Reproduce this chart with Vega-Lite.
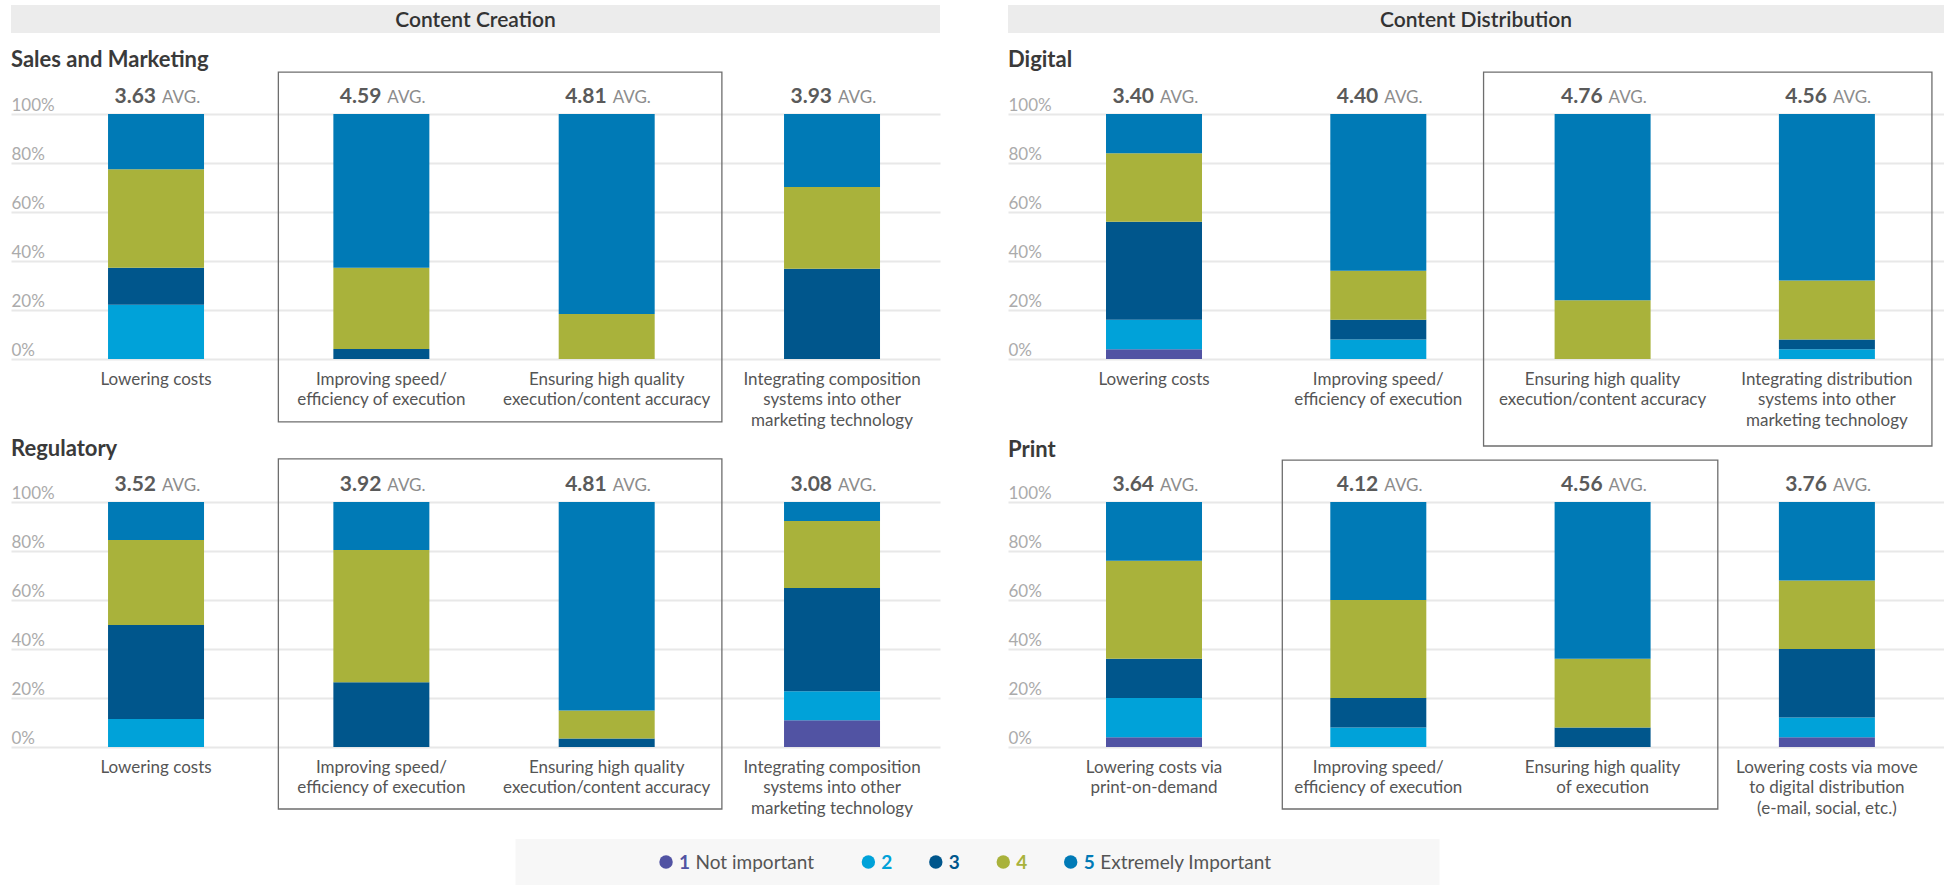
{
"$schema": "https://vega.github.io/schema/vega-lite/v6.json",
"padding": {"left": 11, "top": 5, "right": 0, "bottom": 0},
"autosize": {"type": "pad"},
"background": "white",
"config": {"font": "Lato", "view": {"stroke": null}},
"datasets": {
"headers": [{"section": "Content Creation"}, {"section": "Content Distribution"}],
"legend": [
{"level": "1", "desc": "Not important"},
{"level": "2", "desc": ""},
{"level": "3", "desc": ""},
{"level": "4", "desc": ""},
{"level": "5", "desc": "Extremely Important"}
],
"boxes": [
{"panel": "Sales and Marketing", "first": "Improving speed/\nefficiency of execution", "last": "Ensuring high quality\nexecution/content accuracy"},
{"panel": "Regulatory", "first": "Improving speed/\nefficiency of execution", "last": "Ensuring high quality\nexecution/content accuracy"},
{"panel": "Digital", "first": "Ensuring high quality\nexecution/content accuracy", "last": "Integrating distribution\nsystems into other\nmarketing technology"},
{"panel": "Print", "first": "Improving speed/\nefficiency of execution", "last": "Ensuring high quality\nof execution"}
],
"avgs": [
{"panel": "Sales and Marketing", "item": "Lowering costs", "avg": 3.63},
{"panel": "Sales and Marketing", "item": "Improving speed/\nefficiency of execution", "avg": 4.59},
{"panel": "Sales and Marketing", "item": "Ensuring high quality\nexecution/content accuracy", "avg": 4.81},
{"panel": "Sales and Marketing", "item": "Integrating composition\nsystems into other\nmarketing technology", "avg": 3.93},
{"panel": "Regulatory", "item": "Lowering costs", "avg": 3.52},
{"panel": "Regulatory", "item": "Improving speed/\nefficiency of execution", "avg": 3.92},
{"panel": "Regulatory", "item": "Ensuring high quality\nexecution/content accuracy", "avg": 4.81},
{"panel": "Regulatory", "item": "Integrating composition\nsystems into other\nmarketing technology", "avg": 3.08},
{"panel": "Digital", "item": "Lowering costs", "avg": 3.40},
{"panel": "Digital", "item": "Improving speed/\nefficiency of execution", "avg": 4.40},
{"panel": "Digital", "item": "Ensuring high quality\nexecution/content accuracy", "avg": 4.76},
{"panel": "Digital", "item": "Integrating distribution\nsystems into other\nmarketing technology", "avg": 4.56},
{"panel": "Print", "item": "Lowering costs via\nprint-on-demand", "avg": 3.64},
{"panel": "Print", "item": "Improving speed/\nefficiency of execution", "avg": 4.12},
{"panel": "Print", "item": "Ensuring high quality\nof execution", "avg": 4.56},
{"panel": "Print", "item": "Lowering costs via move\nto digital distribution\n(e-mail, social, etc.)", "avg": 3.76}
],
"bars": [
{"panel": "Sales and Marketing", "item": "Lowering costs", "level": "2", "pct": 22.1},
{"panel": "Sales and Marketing", "item": "Lowering costs", "level": "3", "pct": 15.1},
{"panel": "Sales and Marketing", "item": "Lowering costs", "level": "4", "pct": 40.3},
{"panel": "Sales and Marketing", "item": "Lowering costs", "level": "5", "pct": 22.5},
{"panel": "Sales and Marketing", "item": "Improving speed/\nefficiency of execution", "level": "3", "pct": 4.1},
{"panel": "Sales and Marketing", "item": "Improving speed/\nefficiency of execution", "level": "4", "pct": 33.1},
{"panel": "Sales and Marketing", "item": "Improving speed/\nefficiency of execution", "level": "5", "pct": 62.8},
{"panel": "Sales and Marketing", "item": "Ensuring high quality\nexecution/content accuracy", "level": "4", "pct": 18.4},
{"panel": "Sales and Marketing", "item": "Ensuring high quality\nexecution/content accuracy", "level": "5", "pct": 81.6},
{"panel": "Sales and Marketing", "item": "Integrating composition\nsystems into other\nmarketing technology", "level": "3", "pct": 36.8},
{"panel": "Sales and Marketing", "item": "Integrating composition\nsystems into other\nmarketing technology", "level": "4", "pct": 33.4},
{"panel": "Sales and Marketing", "item": "Integrating composition\nsystems into other\nmarketing technology", "level": "5", "pct": 29.8},
{"panel": "Regulatory", "item": "Lowering costs", "level": "2", "pct": 11.4},
{"panel": "Regulatory", "item": "Lowering costs", "level": "3", "pct": 38.4},
{"panel": "Regulatory", "item": "Lowering costs", "level": "4", "pct": 34.7},
{"panel": "Regulatory", "item": "Lowering costs", "level": "5", "pct": 15.5},
{"panel": "Regulatory", "item": "Improving speed/\nefficiency of execution", "level": "3", "pct": 26.4},
{"panel": "Regulatory", "item": "Improving speed/\nefficiency of execution", "level": "4", "pct": 54.0},
{"panel": "Regulatory", "item": "Improving speed/\nefficiency of execution", "level": "5", "pct": 19.6},
{"panel": "Regulatory", "item": "Ensuring high quality\nexecution/content accuracy", "level": "3", "pct": 3.5},
{"panel": "Regulatory", "item": "Ensuring high quality\nexecution/content accuracy", "level": "4", "pct": 11.4},
{"panel": "Regulatory", "item": "Ensuring high quality\nexecution/content accuracy", "level": "5", "pct": 85.1},
{"panel": "Regulatory", "item": "Integrating composition\nsystems into other\nmarketing technology", "level": "1", "pct": 10.9},
{"panel": "Regulatory", "item": "Integrating composition\nsystems into other\nmarketing technology", "level": "2", "pct": 11.9},
{"panel": "Regulatory", "item": "Integrating composition\nsystems into other\nmarketing technology", "level": "3", "pct": 42.1},
{"panel": "Regulatory", "item": "Integrating composition\nsystems into other\nmarketing technology", "level": "4", "pct": 27.3},
{"panel": "Regulatory", "item": "Integrating composition\nsystems into other\nmarketing technology", "level": "5", "pct": 7.8},
{"panel": "Digital", "item": "Lowering costs", "level": "1", "pct": 4},
{"panel": "Digital", "item": "Lowering costs", "level": "2", "pct": 12},
{"panel": "Digital", "item": "Lowering costs", "level": "3", "pct": 40},
{"panel": "Digital", "item": "Lowering costs", "level": "4", "pct": 28},
{"panel": "Digital", "item": "Lowering costs", "level": "5", "pct": 16},
{"panel": "Digital", "item": "Improving speed/\nefficiency of execution", "level": "2", "pct": 8},
{"panel": "Digital", "item": "Improving speed/\nefficiency of execution", "level": "3", "pct": 8},
{"panel": "Digital", "item": "Improving speed/\nefficiency of execution", "level": "4", "pct": 20},
{"panel": "Digital", "item": "Improving speed/\nefficiency of execution", "level": "5", "pct": 64},
{"panel": "Digital", "item": "Ensuring high quality\nexecution/content accuracy", "level": "4", "pct": 24},
{"panel": "Digital", "item": "Ensuring high quality\nexecution/content accuracy", "level": "5", "pct": 76},
{"panel": "Digital", "item": "Integrating distribution\nsystems into other\nmarketing technology", "level": "2", "pct": 4},
{"panel": "Digital", "item": "Integrating distribution\nsystems into other\nmarketing technology", "level": "3", "pct": 4},
{"panel": "Digital", "item": "Integrating distribution\nsystems into other\nmarketing technology", "level": "4", "pct": 24},
{"panel": "Digital", "item": "Integrating distribution\nsystems into other\nmarketing technology", "level": "5", "pct": 68},
{"panel": "Print", "item": "Lowering costs via\nprint-on-demand", "level": "1", "pct": 4},
{"panel": "Print", "item": "Lowering costs via\nprint-on-demand", "level": "2", "pct": 16},
{"panel": "Print", "item": "Lowering costs via\nprint-on-demand", "level": "3", "pct": 16},
{"panel": "Print", "item": "Lowering costs via\nprint-on-demand", "level": "4", "pct": 40},
{"panel": "Print", "item": "Lowering costs via\nprint-on-demand", "level": "5", "pct": 24},
{"panel": "Print", "item": "Improving speed/\nefficiency of execution", "level": "2", "pct": 8},
{"panel": "Print", "item": "Improving speed/\nefficiency of execution", "level": "3", "pct": 12},
{"panel": "Print", "item": "Improving speed/\nefficiency of execution", "level": "4", "pct": 40},
{"panel": "Print", "item": "Improving speed/\nefficiency of execution", "level": "5", "pct": 40},
{"panel": "Print", "item": "Ensuring high quality\nof execution", "level": "3", "pct": 8},
{"panel": "Print", "item": "Ensuring high quality\nof execution", "level": "4", "pct": 28},
{"panel": "Print", "item": "Ensuring high quality\nof execution", "level": "5", "pct": 64},
{"panel": "Print", "item": "Lowering costs via move\nto digital distribution\n(e-mail, social, etc.)", "level": "1", "pct": 4},
{"panel": "Print", "item": "Lowering costs via move\nto digital distribution\n(e-mail, social, etc.)", "level": "2", "pct": 8},
{"panel": "Print", "item": "Lowering costs via move\nto digital distribution\n(e-mail, social, etc.)", "level": "3", "pct": 28},
{"panel": "Print", "item": "Lowering costs via move\nto digital distribution\n(e-mail, social, etc.)", "level": "4", "pct": 28},
{"panel": "Print", "item": "Lowering costs via move\nto digital distribution\n(e-mail, social, etc.)", "level": "5", "pct": 32}
]
},
"spacing": 23,
"center": true,
"vconcat": [
{
"columns": 2,
"spacing": {"row": 0, "column": 68},
"bounds": "flush",
"align": "each",
"concat": [
{
"width": 929, "height": 28,
"view": {"fill": "#ececec"},
"data": {"name": "headers"},
"transform": [{"filter": "datum.section === 'Content Creation'"}],
"mark": {"type": "text", "fontSize": 21, "fontWeight": 600, "color": "#333333", "baseline": "middle", "dy": 1.5},
"encoding": {"text": {"field": "section", "type": "nominal"}}
},
{
"width": 936, "height": 28,
"view": {"fill": "#ececec"},
"data": {"name": "headers"},
"transform": [{"filter": "datum.section === 'Content Distribution'"}],
"mark": {"type": "text", "fontSize": 21, "fontWeight": 600, "color": "#333333", "baseline": "middle", "dy": 1.5},
"encoding": {"text": {"field": "section", "type": "nominal"}}
},
{"width": 929, "height": 81, "data": {"values": []}, "mark": "point"},
{"width": 936, "height": 81, "data": {"values": []}, "mark": "point"},
{
"width": 929, "height": 245,
"title": {"text": "Sales and Marketing", "anchor": "start", "frame": "group", "baseline": "alphabetic", "offset": -18, "fontSize": 22, "fontWeight": "bold", "color": "#3a3a3a"},
"layer": [
{"data": {"name": "bars"}, "transform": [{"filter": "datum.panel === 'Sales and Marketing'"}],
"mark": {"type": "bar"},
"encoding": {
"x": {"field": "item", "type": "nominal", "scale": {"domain": ["Lowering costs", "Improving speed/\nefficiency of execution", "Ensuring high quality\nexecution/content accuracy", "Integrating composition\nsystems into other\nmarketing technology"], "paddingInner": 0.574, "paddingOuter": 0.3484, "align": 0.618},
"axis": {"title": null, "domain": false, "ticks": false, "labelAngle": 0, "labelExpr": "split(datum.label, '\\n')", "labelPadding": 12, "labelBaseline": "top", "labelLineHeight": 20.5, "labelFontSize": 17, "labelColor": "#555555", "labelLimit": 400, "labelOverlap": false, "labelFlush": false, "grid": false}},
"y": {"field": "pct", "type": "quantitative", "stack": "zero", "scale": {"domain": [0, 100], "nice": false},
"axis": {"title": null, "values": [0, 20, 40, 60, 80, 100], "labelExpr": "datum.value + '%'", "domain": false, "ticks": false, "tickSize": 0, "labelPadding": 0, "labelAlign": "left", "labelBaseline": "alphabetic", "labelOffset": -4, "labelFlush": false, "labelOverlap": false, "labelFontSize": 17, "labelColor": "#ababab", "grid": true, "gridColor": "#e8e8e8", "gridWidth": 2}},
"color": {"field": "level", "type": "nominal", "scale": {"domain": ["1", "2", "3", "4", "5"], "range": ["#5153a3", "#00a2d9", "#00568c", "#a9b23b", "#007ab6"]}, "legend": null},
"order": {"field": "level", "type": "ordinal", "sort": "ascending"}}},
{"data": {"name": "boxes"}, "transform": [{"filter": "datum.panel === 'Sales and Marketing'"}],
"mark": {"type": "rect", "fill": "white", "fillOpacity": 0, "stroke": "#6e6e6e", "strokeWidth": 1.3},
"encoding": {
"x": {"field": "first", "type": "nominal", "bandPosition": -0.573, "scale": {"domain": ["Lowering costs", "Improving speed/\nefficiency of execution", "Ensuring high quality\nexecution/content accuracy", "Integrating composition\nsystems into other\nmarketing technology"], "paddingInner": 0.574, "paddingOuter": 0.3484, "align": 0.618},
"axis": {"title": null, "domain": false, "ticks": false, "labelAngle": 0, "labelExpr": "split(datum.label, '\\n')", "labelPadding": 12, "labelBaseline": "top", "labelLineHeight": 20.5, "labelFontSize": 17, "labelColor": "#555555", "labelLimit": 400, "labelOverlap": false, "labelFlush": false, "grid": false}},
"x2": {"field": "last", "bandPosition": 1.7},
"y": {"datum": 117.1, "type": "quantitative", "scale": {"domain": [0, 100], "nice": false},
"axis": {"title": null, "values": [0, 20, 40, 60, 80, 100], "labelExpr": "datum.value + '%'", "domain": false, "ticks": false, "tickSize": 0, "labelPadding": 0, "labelAlign": "left", "labelBaseline": "alphabetic", "labelOffset": -4, "labelFlush": false, "labelOverlap": false, "labelFontSize": 17, "labelColor": "#ababab", "grid": true, "gridColor": "#e8e8e8", "gridWidth": 2}},
"y2": {"datum": -25.7}}},
{"data": {"name": "avgs"}, "transform": [{"filter": "datum.panel === 'Sales and Marketing'"}],
"mark": {"type": "text", "align": "right", "baseline": "alphabetic", "dy": -11, "fontSize": 21, "fontWeight": "bold", "color": "#5a5a5a"},
"encoding": {
"x": {"field": "item", "type": "nominal", "scale": {"domain": ["Lowering costs", "Improving speed/\nefficiency of execution", "Ensuring high quality\nexecution/content accuracy", "Integrating composition\nsystems into other\nmarketing technology"], "paddingInner": 0.574, "paddingOuter": 0.3484, "align": 0.618},
"axis": {"title": null, "domain": false, "ticks": false, "labelAngle": 0, "labelExpr": "split(datum.label, '\\n')", "labelPadding": 12, "labelBaseline": "top", "labelLineHeight": 20.5, "labelFontSize": 17, "labelColor": "#555555", "labelLimit": 400, "labelOverlap": false, "labelFlush": false, "grid": false}},
"y": {"datum": 100, "type": "quantitative", "scale": {"domain": [0, 100], "nice": false},
"axis": {"title": null, "values": [0, 20, 40, 60, 80, 100], "labelExpr": "datum.value + '%'", "domain": false, "ticks": false, "tickSize": 0, "labelPadding": 0, "labelAlign": "left", "labelBaseline": "alphabetic", "labelOffset": -4, "labelFlush": false, "labelOverlap": false, "labelFontSize": 17, "labelColor": "#ababab", "grid": true, "gridColor": "#e8e8e8", "gridWidth": 2}},
"text": {"field": "avg", "type": "quantitative", "format": ".2f"}}},
{"data": {"name": "avgs"}, "transform": [{"filter": "datum.panel === 'Sales and Marketing'"}],
"mark": {"type": "text", "text": "AVG.", "align": "left", "baseline": "alphabetic", "dx": 6, "dy": -11, "fontSize": 17, "color": "#8c8c8c"},
"encoding": {
"x": {"field": "item", "type": "nominal", "scale": {"domain": ["Lowering costs", "Improving speed/\nefficiency of execution", "Ensuring high quality\nexecution/content accuracy", "Integrating composition\nsystems into other\nmarketing technology"], "paddingInner": 0.574, "paddingOuter": 0.3484, "align": 0.618},
"axis": {"title": null, "domain": false, "ticks": false, "labelAngle": 0, "labelExpr": "split(datum.label, '\\n')", "labelPadding": 12, "labelBaseline": "top", "labelLineHeight": 20.5, "labelFontSize": 17, "labelColor": "#555555", "labelLimit": 400, "labelOverlap": false, "labelFlush": false, "grid": false}},
"y": {"datum": 100, "type": "quantitative", "scale": {"domain": [0, 100], "nice": false},
"axis": {"title": null, "values": [0, 20, 40, 60, 80, 100], "labelExpr": "datum.value + '%'", "domain": false, "ticks": false, "tickSize": 0, "labelPadding": 0, "labelAlign": "left", "labelBaseline": "alphabetic", "labelOffset": -4, "labelFlush": false, "labelOverlap": false, "labelFontSize": 17, "labelColor": "#ababab", "grid": true, "gridColor": "#e8e8e8", "gridWidth": 2}}}}
]
},
{
"width": 936, "height": 245,
"title": {"text": "Digital", "anchor": "start", "frame": "group", "baseline": "alphabetic", "offset": -18, "fontSize": 22, "fontWeight": "bold", "color": "#3a3a3a"},
"layer": [
{"data": {"name": "bars"}, "transform": [{"filter": "datum.panel === 'Digital'"}],
"mark": {"type": "bar"},
"encoding": {
"x": {"field": "item", "type": "nominal", "scale": {"domain": ["Lowering costs", "Improving speed/\nefficiency of execution", "Ensuring high quality\nexecution/content accuracy", "Integrating distribution\nsystems into other\nmarketing technology"], "paddingInner": 0.572, "paddingOuter": 0.3725, "align": 0.5865},
"axis": {"title": null, "domain": false, "ticks": false, "labelAngle": 0, "labelExpr": "split(datum.label, '\\n')", "labelPadding": 12, "labelBaseline": "top", "labelLineHeight": 20.5, "labelFontSize": 17, "labelColor": "#555555", "labelLimit": 400, "labelOverlap": false, "labelFlush": false, "grid": false}},
"y": {"field": "pct", "type": "quantitative", "stack": "zero", "scale": {"domain": [0, 100], "nice": false},
"axis": {"title": null, "values": [0, 20, 40, 60, 80, 100], "labelExpr": "datum.value + '%'", "domain": false, "ticks": false, "tickSize": 0, "labelPadding": 0, "labelAlign": "left", "labelBaseline": "alphabetic", "labelOffset": -4, "labelFlush": false, "labelOverlap": false, "labelFontSize": 17, "labelColor": "#ababab", "grid": true, "gridColor": "#e8e8e8", "gridWidth": 2}},
"color": {"field": "level", "type": "nominal", "scale": {"domain": ["1", "2", "3", "4", "5"], "range": ["#5153a3", "#00a2d9", "#00568c", "#a9b23b", "#007ab6"]}, "legend": null},
"order": {"field": "level", "type": "ordinal", "sort": "ascending"}}},
{"data": {"name": "boxes"}, "transform": [{"filter": "datum.panel === 'Digital'"}],
"mark": {"type": "rect", "fill": "white", "fillOpacity": 0, "stroke": "#6e6e6e", "strokeWidth": 1.3},
"encoding": {
"x": {"field": "first", "type": "nominal", "bandPosition": -0.74, "scale": {"domain": ["Lowering costs", "Improving speed/\nefficiency of execution", "Ensuring high quality\nexecution/content accuracy", "Integrating distribution\nsystems into other\nmarketing technology"], "paddingInner": 0.572, "paddingOuter": 0.3725, "align": 0.5865},
"axis": {"title": null, "domain": false, "ticks": false, "labelAngle": 0, "labelExpr": "split(datum.label, '\\n')", "labelPadding": 12, "labelBaseline": "top", "labelLineHeight": 20.5, "labelFontSize": 17, "labelColor": "#555555", "labelLimit": 400, "labelOverlap": false, "labelFlush": false, "grid": false}},
"x2": {"field": "last", "bandPosition": 1.594},
"y": {"datum": 117.1, "type": "quantitative", "scale": {"domain": [0, 100], "nice": false},
"axis": {"title": null, "values": [0, 20, 40, 60, 80, 100], "labelExpr": "datum.value + '%'", "domain": false, "ticks": false, "tickSize": 0, "labelPadding": 0, "labelAlign": "left", "labelBaseline": "alphabetic", "labelOffset": -4, "labelFlush": false, "labelOverlap": false, "labelFontSize": 17, "labelColor": "#ababab", "grid": true, "gridColor": "#e8e8e8", "gridWidth": 2}},
"y2": {"datum": -35.5}}},
{"data": {"name": "avgs"}, "transform": [{"filter": "datum.panel === 'Digital'"}],
"mark": {"type": "text", "align": "right", "baseline": "alphabetic", "dy": -11, "fontSize": 21, "fontWeight": "bold", "color": "#5a5a5a"},
"encoding": {
"x": {"field": "item", "type": "nominal", "scale": {"domain": ["Lowering costs", "Improving speed/\nefficiency of execution", "Ensuring high quality\nexecution/content accuracy", "Integrating distribution\nsystems into other\nmarketing technology"], "paddingInner": 0.572, "paddingOuter": 0.3725, "align": 0.5865},
"axis": {"title": null, "domain": false, "ticks": false, "labelAngle": 0, "labelExpr": "split(datum.label, '\\n')", "labelPadding": 12, "labelBaseline": "top", "labelLineHeight": 20.5, "labelFontSize": 17, "labelColor": "#555555", "labelLimit": 400, "labelOverlap": false, "labelFlush": false, "grid": false}},
"y": {"datum": 100, "type": "quantitative", "scale": {"domain": [0, 100], "nice": false},
"axis": {"title": null, "values": [0, 20, 40, 60, 80, 100], "labelExpr": "datum.value + '%'", "domain": false, "ticks": false, "tickSize": 0, "labelPadding": 0, "labelAlign": "left", "labelBaseline": "alphabetic", "labelOffset": -4, "labelFlush": false, "labelOverlap": false, "labelFontSize": 17, "labelColor": "#ababab", "grid": true, "gridColor": "#e8e8e8", "gridWidth": 2}},
"text": {"field": "avg", "type": "quantitative", "format": ".2f"}}},
{"data": {"name": "avgs"}, "transform": [{"filter": "datum.panel === 'Digital'"}],
"mark": {"type": "text", "text": "AVG.", "align": "left", "baseline": "alphabetic", "dx": 6, "dy": -11, "fontSize": 17, "color": "#8c8c8c"},
"encoding": {
"x": {"field": "item", "type": "nominal", "scale": {"domain": ["Lowering costs", "Improving speed/\nefficiency of execution", "Ensuring high quality\nexecution/content accuracy", "Integrating distribution\nsystems into other\nmarketing technology"], "paddingInner": 0.572, "paddingOuter": 0.3725, "align": 0.5865},
"axis": {"title": null, "domain": false, "ticks": false, "labelAngle": 0, "labelExpr": "split(datum.label, '\\n')", "labelPadding": 12, "labelBaseline": "top", "labelLineHeight": 20.5, "labelFontSize": 17, "labelColor": "#555555", "labelLimit": 400, "labelOverlap": false, "labelFlush": false, "grid": false}},
"y": {"datum": 100, "type": "quantitative", "scale": {"domain": [0, 100], "nice": false},
"axis": {"title": null, "values": [0, 20, 40, 60, 80, 100], "labelExpr": "datum.value + '%'", "domain": false, "ticks": false, "tickSize": 0, "labelPadding": 0, "labelAlign": "left", "labelBaseline": "alphabetic", "labelOffset": -4, "labelFlush": false, "labelOverlap": false, "labelFontSize": 17, "labelColor": "#ababab", "grid": true, "gridColor": "#e8e8e8", "gridWidth": 2}}}}
]
},
{"width": 929, "height": 143, "data": {"values": []}, "mark": "point"},
{"width": 936, "height": 143, "data": {"values": []}, "mark": "point"},
{
"width": 929, "height": 245,
"title": {"text": "Regulatory", "anchor": "start", "frame": "group", "baseline": "alphabetic", "offset": -20, "fontSize": 22, "fontWeight": "bold", "color": "#3a3a3a"},
"layer": [
{"data": {"name": "bars"}, "transform": [{"filter": "datum.panel === 'Regulatory'"}],
"mark": {"type": "bar"},
"encoding": {
"x": {"field": "item", "type": "nominal", "scale": {"domain": ["Lowering costs", "Improving speed/\nefficiency of execution", "Ensuring high quality\nexecution/content accuracy", "Integrating composition\nsystems into other\nmarketing technology"], "paddingInner": 0.574, "paddingOuter": 0.3484, "align": 0.618},
"axis": {"title": null, "domain": false, "ticks": false, "labelAngle": 0, "labelExpr": "split(datum.label, '\\n')", "labelPadding": 12, "labelBaseline": "top", "labelLineHeight": 20.5, "labelFontSize": 17, "labelColor": "#555555", "labelLimit": 400, "labelOverlap": false, "labelFlush": false, "grid": false}},
"y": {"field": "pct", "type": "quantitative", "stack": "zero", "scale": {"domain": [0, 100], "nice": false},
"axis": {"title": null, "values": [0, 20, 40, 60, 80, 100], "labelExpr": "datum.value + '%'", "domain": false, "ticks": false, "tickSize": 0, "labelPadding": 0, "labelAlign": "left", "labelBaseline": "alphabetic", "labelOffset": -4, "labelFlush": false, "labelOverlap": false, "labelFontSize": 17, "labelColor": "#ababab", "grid": true, "gridColor": "#e8e8e8", "gridWidth": 2}},
"color": {"field": "level", "type": "nominal", "scale": {"domain": ["1", "2", "3", "4", "5"], "range": ["#5153a3", "#00a2d9", "#00568c", "#a9b23b", "#007ab6"]}, "legend": null},
"order": {"field": "level", "type": "ordinal", "sort": "ascending"}}},
{"data": {"name": "boxes"}, "transform": [{"filter": "datum.panel === 'Regulatory'"}],
"mark": {"type": "rect", "fill": "white", "fillOpacity": 0, "stroke": "#6e6e6e", "strokeWidth": 1.3},
"encoding": {
"x": {"field": "first", "type": "nominal", "bandPosition": -0.573, "scale": {"domain": ["Lowering costs", "Improving speed/\nefficiency of execution", "Ensuring high quality\nexecution/content accuracy", "Integrating composition\nsystems into other\nmarketing technology"], "paddingInner": 0.574, "paddingOuter": 0.3484, "align": 0.618},
"axis": {"title": null, "domain": false, "ticks": false, "labelAngle": 0, "labelExpr": "split(datum.label, '\\n')", "labelPadding": 12, "labelBaseline": "top", "labelLineHeight": 20.5, "labelFontSize": 17, "labelColor": "#555555", "labelLimit": 400, "labelOverlap": false, "labelFlush": false, "grid": false}},
"x2": {"field": "last", "bandPosition": 1.7},
"y": {"datum": 117.6, "type": "quantitative", "scale": {"domain": [0, 100], "nice": false},
"axis": {"title": null, "values": [0, 20, 40, 60, 80, 100], "labelExpr": "datum.value + '%'", "domain": false, "ticks": false, "tickSize": 0, "labelPadding": 0, "labelAlign": "left", "labelBaseline": "alphabetic", "labelOffset": -4, "labelFlush": false, "labelOverlap": false, "labelFontSize": 17, "labelColor": "#ababab", "grid": true, "gridColor": "#e8e8e8", "gridWidth": 2}},
"y2": {"datum": -25.3}}},
{"data": {"name": "avgs"}, "transform": [{"filter": "datum.panel === 'Regulatory'"}],
"mark": {"type": "text", "align": "right", "baseline": "alphabetic", "dy": -11, "fontSize": 21, "fontWeight": "bold", "color": "#5a5a5a"},
"encoding": {
"x": {"field": "item", "type": "nominal", "scale": {"domain": ["Lowering costs", "Improving speed/\nefficiency of execution", "Ensuring high quality\nexecution/content accuracy", "Integrating composition\nsystems into other\nmarketing technology"], "paddingInner": 0.574, "paddingOuter": 0.3484, "align": 0.618},
"axis": {"title": null, "domain": false, "ticks": false, "labelAngle": 0, "labelExpr": "split(datum.label, '\\n')", "labelPadding": 12, "labelBaseline": "top", "labelLineHeight": 20.5, "labelFontSize": 17, "labelColor": "#555555", "labelLimit": 400, "labelOverlap": false, "labelFlush": false, "grid": false}},
"y": {"datum": 100, "type": "quantitative", "scale": {"domain": [0, 100], "nice": false},
"axis": {"title": null, "values": [0, 20, 40, 60, 80, 100], "labelExpr": "datum.value + '%'", "domain": false, "ticks": false, "tickSize": 0, "labelPadding": 0, "labelAlign": "left", "labelBaseline": "alphabetic", "labelOffset": -4, "labelFlush": false, "labelOverlap": false, "labelFontSize": 17, "labelColor": "#ababab", "grid": true, "gridColor": "#e8e8e8", "gridWidth": 2}},
"text": {"field": "avg", "type": "quantitative", "format": ".2f"}}},
{"data": {"name": "avgs"}, "transform": [{"filter": "datum.panel === 'Regulatory'"}],
"mark": {"type": "text", "text": "AVG.", "align": "left", "baseline": "alphabetic", "dx": 6, "dy": -11, "fontSize": 17, "color": "#8c8c8c"},
"encoding": {
"x": {"field": "item", "type": "nominal", "scale": {"domain": ["Lowering costs", "Improving speed/\nefficiency of execution", "Ensuring high quality\nexecution/content accuracy", "Integrating composition\nsystems into other\nmarketing technology"], "paddingInner": 0.574, "paddingOuter": 0.3484, "align": 0.618},
"axis": {"title": null, "domain": false, "ticks": false, "labelAngle": 0, "labelExpr": "split(datum.label, '\\n')", "labelPadding": 12, "labelBaseline": "top", "labelLineHeight": 20.5, "labelFontSize": 17, "labelColor": "#555555", "labelLimit": 400, "labelOverlap": false, "labelFlush": false, "grid": false}},
"y": {"datum": 100, "type": "quantitative", "scale": {"domain": [0, 100], "nice": false},
"axis": {"title": null, "values": [0, 20, 40, 60, 80, 100], "labelExpr": "datum.value + '%'", "domain": false, "ticks": false, "tickSize": 0, "labelPadding": 0, "labelAlign": "left", "labelBaseline": "alphabetic", "labelOffset": -4, "labelFlush": false, "labelOverlap": false, "labelFontSize": 17, "labelColor": "#ababab", "grid": true, "gridColor": "#e8e8e8", "gridWidth": 2}}}}
]
},
{
"width": 936, "height": 245,
"title": {"text": "Print", "anchor": "start", "frame": "group", "baseline": "alphabetic", "offset": -20, "fontSize": 22, "fontWeight": "bold", "color": "#3a3a3a"},
"layer": [
{"data": {"name": "bars"}, "transform": [{"filter": "datum.panel === 'Print'"}],
"mark": {"type": "bar"},
"encoding": {
"x": {"field": "item", "type": "nominal", "scale": {"domain": ["Lowering costs via\nprint-on-demand", "Improving speed/\nefficiency of execution", "Ensuring high quality\nof execution", "Lowering costs via move\nto digital distribution\n(e-mail, social, etc.)"], "paddingInner": 0.572, "paddingOuter": 0.3725, "align": 0.5865},
"axis": {"title": null, "domain": false, "ticks": false, "labelAngle": 0, "labelExpr": "split(datum.label, '\\n')", "labelPadding": 12, "labelBaseline": "top", "labelLineHeight": 20.5, "labelFontSize": 17, "labelColor": "#555555", "labelLimit": 400, "labelOverlap": false, "labelFlush": false, "grid": false}},
"y": {"field": "pct", "type": "quantitative", "stack": "zero", "scale": {"domain": [0, 100], "nice": false},
"axis": {"title": null, "values": [0, 20, 40, 60, 80, 100], "labelExpr": "datum.value + '%'", "domain": false, "ticks": false, "tickSize": 0, "labelPadding": 0, "labelAlign": "left", "labelBaseline": "alphabetic", "labelOffset": -4, "labelFlush": false, "labelOverlap": false, "labelFontSize": 17, "labelColor": "#ababab", "grid": true, "gridColor": "#e8e8e8", "gridWidth": 2}},
"color": {"field": "level", "type": "nominal", "scale": {"domain": ["1", "2", "3", "4", "5"], "range": ["#5153a3", "#00a2d9", "#00568c", "#a9b23b", "#007ab6"]}, "legend": null},
"order": {"field": "level", "type": "ordinal", "sort": "ascending"}}},
{"data": {"name": "boxes"}, "transform": [{"filter": "datum.panel === 'Print'"}],
"mark": {"type": "rect", "fill": "white", "fillOpacity": 0, "stroke": "#6e6e6e", "strokeWidth": 1.3},
"encoding": {
"x": {"field": "first", "type": "nominal", "bandPosition": -0.5, "scale": {"domain": ["Lowering costs via\nprint-on-demand", "Improving speed/\nefficiency of execution", "Ensuring high quality\nof execution", "Lowering costs via move\nto digital distribution\n(e-mail, social, etc.)"], "paddingInner": 0.572, "paddingOuter": 0.3725, "align": 0.5865},
"axis": {"title": null, "domain": false, "ticks": false, "labelAngle": 0, "labelExpr": "split(datum.label, '\\n')", "labelPadding": 12, "labelBaseline": "top", "labelLineHeight": 20.5, "labelFontSize": 17, "labelColor": "#555555", "labelLimit": 400, "labelOverlap": false, "labelFlush": false, "grid": false}},
"x2": {"field": "last", "bandPosition": 1.7},
"y": {"datum": 117.1, "type": "quantitative", "scale": {"domain": [0, 100], "nice": false},
"axis": {"title": null, "values": [0, 20, 40, 60, 80, 100], "labelExpr": "datum.value + '%'", "domain": false, "ticks": false, "tickSize": 0, "labelPadding": 0, "labelAlign": "left", "labelBaseline": "alphabetic", "labelOffset": -4, "labelFlush": false, "labelOverlap": false, "labelFontSize": 17, "labelColor": "#ababab", "grid": true, "gridColor": "#e8e8e8", "gridWidth": 2}},
"y2": {"datum": -25.3}}},
{"data": {"name": "avgs"}, "transform": [{"filter": "datum.panel === 'Print'"}],
"mark": {"type": "text", "align": "right", "baseline": "alphabetic", "dy": -11, "fontSize": 21, "fontWeight": "bold", "color": "#5a5a5a"},
"encoding": {
"x": {"field": "item", "type": "nominal", "scale": {"domain": ["Lowering costs via\nprint-on-demand", "Improving speed/\nefficiency of execution", "Ensuring high quality\nof execution", "Lowering costs via move\nto digital distribution\n(e-mail, social, etc.)"], "paddingInner": 0.572, "paddingOuter": 0.3725, "align": 0.5865},
"axis": {"title": null, "domain": false, "ticks": false, "labelAngle": 0, "labelExpr": "split(datum.label, '\\n')", "labelPadding": 12, "labelBaseline": "top", "labelLineHeight": 20.5, "labelFontSize": 17, "labelColor": "#555555", "labelLimit": 400, "labelOverlap": false, "labelFlush": false, "grid": false}},
"y": {"datum": 100, "type": "quantitative", "scale": {"domain": [0, 100], "nice": false},
"axis": {"title": null, "values": [0, 20, 40, 60, 80, 100], "labelExpr": "datum.value + '%'", "domain": false, "ticks": false, "tickSize": 0, "labelPadding": 0, "labelAlign": "left", "labelBaseline": "alphabetic", "labelOffset": -4, "labelFlush": false, "labelOverlap": false, "labelFontSize": 17, "labelColor": "#ababab", "grid": true, "gridColor": "#e8e8e8", "gridWidth": 2}},
"text": {"field": "avg", "type": "quantitative", "format": ".2f"}}},
{"data": {"name": "avgs"}, "transform": [{"filter": "datum.panel === 'Print'"}],
"mark": {"type": "text", "text": "AVG.", "align": "left", "baseline": "alphabetic", "dx": 6, "dy": -11, "fontSize": 17, "color": "#8c8c8c"},
"encoding": {
"x": {"field": "item", "type": "nominal", "scale": {"domain": ["Lowering costs via\nprint-on-demand", "Improving speed/\nefficiency of execution", "Ensuring high quality\nof execution", "Lowering costs via move\nto digital distribution\n(e-mail, social, etc.)"], "paddingInner": 0.572, "paddingOuter": 0.3725, "align": 0.5865},
"axis": {"title": null, "domain": false, "ticks": false, "labelAngle": 0, "labelExpr": "split(datum.label, '\\n')", "labelPadding": 12, "labelBaseline": "top", "labelLineHeight": 20.5, "labelFontSize": 17, "labelColor": "#555555", "labelLimit": 400, "labelOverlap": false, "labelFlush": false, "grid": false}},
"y": {"datum": 100, "type": "quantitative", "scale": {"domain": [0, 100], "nice": false},
"axis": {"title": null, "values": [0, 20, 40, 60, 80, 100], "labelExpr": "datum.value + '%'", "domain": false, "ticks": false, "tickSize": 0, "labelPadding": 0, "labelAlign": "left", "labelBaseline": "alphabetic", "labelOffset": -4, "labelFlush": false, "labelOverlap": false, "labelFontSize": 17, "labelColor": "#ababab", "grid": true, "gridColor": "#e8e8e8", "gridWidth": 2}}}}
]
}
]
},
{
"width": 924, "height": 46,
"view": {"fill": "#f7f7f7"},
"data": {"name": "legend"},
"encoding": {
"x": {"field": "level", "type": "ordinal", "scale": {"type": "band", "domain": ["1", "gap 1", "gap 2", "2", "3", "4", "5", "gap 3", "gap 4", "gap 5", "gap 6", "gap 7"], "paddingInner": 0.3, "paddingOuter": 1, "align": 0.941}, "axis": null},
"color": {"field": "level", "type": "nominal", "scale": {"domain": ["1", "2", "3", "4", "5"], "range": ["#5153a3", "#00a2d9", "#00568c", "#a9b23b", "#007ab6"]}, "legend": null}
},
"layer": [
{"mark": {"type": "point", "shape": "circle", "filled": true, "opacity": 1, "size": 180}},
{"mark": {"type": "text", "align": "left", "baseline": "middle", "dx": 13, "dy": 1, "fontSize": 19, "fontWeight": "bold"},
"encoding": {"text": {"field": "level", "type": "nominal"}}},
{"mark": {"type": "text", "align": "left", "baseline": "middle", "dx": 29.5, "dy": 1, "fontSize": 19},
"encoding": {"text": {"field": "desc", "type": "nominal"}, "color": {"value": "#555555"}}}
]
}
]
}
